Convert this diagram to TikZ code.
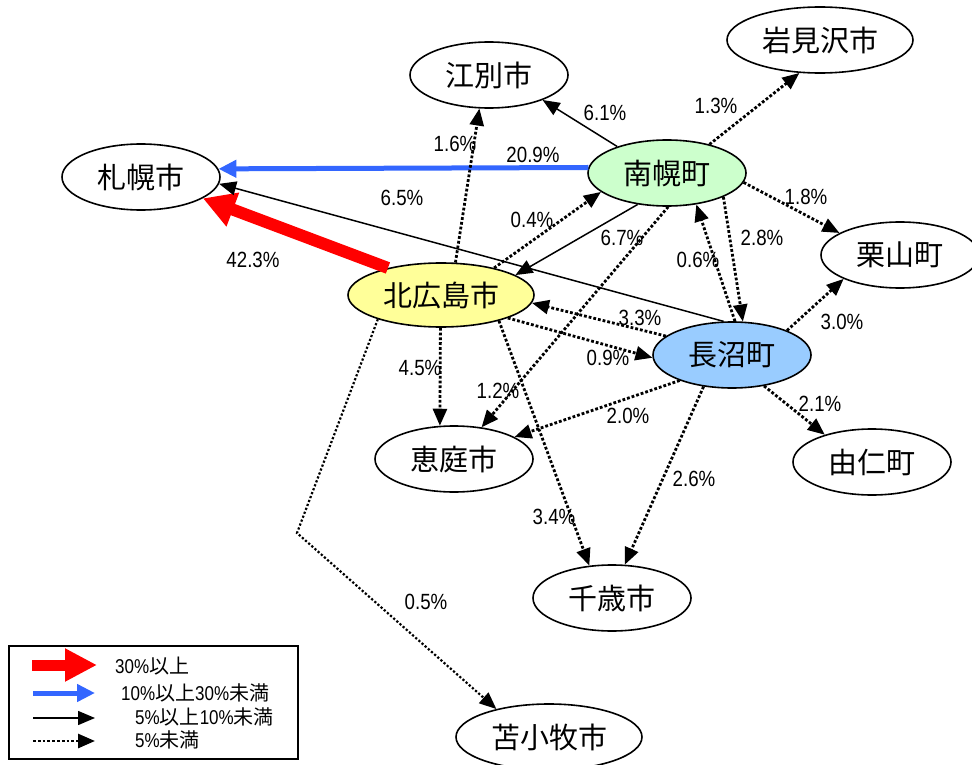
\documentclass[tikz,border=0pt]{standalone}
\usepackage{fontspec}
\setmainfont{Liberation Sans}[FakeStretch=0.85]
\newfontfamily\jp{Noto Sans CJK JP}
\usetikzlibrary{shapes.geometric, arrows.meta}

\definecolor{nanporogreen}{HTML}{CCFFCC}
\definecolor{kitahiroyellow}{HTML}{FFFF99}
\definecolor{naganumablue}{HTML}{99CCFF}
\definecolor{flowblue}{HTML}{3366FF}

\tikzset{
  town/.style = {ellipse, draw, line width=1.6pt, inner sep=0pt,
    minimum width=158pt, minimum height=66pt,
    font=\jp\fontsize{29}{32}\selectfont},
  wide/.style = {minimum width=186pt},
  pct/.style = {inner sep=0pt, font=\fontsize{22}{25}\selectfont},
  legtext/.style = {inner sep=0pt, anchor=west, font=\fontsize{20}{23}\selectfont},
  over30/.style = {red, line width=12pt, -{Triangle[length=32pt, width=34pt]}},
  over10/.style = {flowblue, line width=5pt, -{Triangle[length=18pt, width=17pt]}},
  over5/.style = {line width=1.5pt, -{Triangle[length=17pt, width=14pt]}},
  under5/.style = {dotted, line width=2.8pt, -{Triangle[length=17pt, width=14pt]}},
}

\begin{document}
\begin{tikzpicture}[x=1pt, y=-1pt]
\useasboundingbox (0,0) rectangle (972,765);
\clip (0,0) rectangle (972,765);

% towns
\node[town, wide] (iwamizawa) at (820,40) {岩見沢市};
\node[town] (ebetsu) at (489,75) {江別市};
\node[town] (sapporo) at (141,177) {札幌市};
\node[town, fill=nanporogreen] (nanporo) at (667,173) {南幌町};
\node[town] (kuriyama) at (900,255) {栗山町};
\node[town, wide, minimum height=64pt, fill=kitahiroyellow] (kitahiro) at (441,295) {北広島市};
\node[town, fill=naganumablue] (naganuma) at (732,355) {長沼町};
\node[town] (yuni) at (872,462) {由仁町};
\node[town] (eniwa) at (454,459) {恵庭市};
\node[town] (chitose) at (612,598) {千歳市};
\node[town, wide] (tomakomai) at (549,737) {苫小牧市};
\coordinate (bend) at (297,533);

% flows
\draw[over30] (kitahiro.153) -- (sapporo.-19);
\draw[over10] (nanporo.176) -- (sapporo.6);
\draw[over5] (naganuma.104) -- (sapporo.-5);
\draw[over5] (nanporo.152) -- (ebetsu.-25);
\draw[over5] (nanporo.227) -- (kitahiro.15);
\draw[under5] (kitahiro.66) -- (ebetsu.254);
\draw[under5] (kitahiro.27) -- (nanporo.196);
\draw[under5] (nanporo.34) -- (iwamizawa.238);
\draw[under5] (nanporo.-7) -- (kuriyama.160);
\draw[under5] (nanporo.-23) -- (naganuma.72);
\draw[under5] (naganuma.85) -- (nanporo.-47);
\draw[under5] (nanporo.-88) -- (eniwa.49);
\draw[under5] (naganuma.164) -- (kitahiro.-5);
\draw[under5] (kitahiro.-19) -- (naganuma.182);
\draw[under5] (kitahiro.-91) -- (eniwa.113);
\draw[under5] (kitahiro.-24) -- (chitose.125);
\draw[under5] (naganuma.206) -- (eniwa.20);
\draw[under5] (naganuma.228) -- (chitose.69);
\draw[under5] (naganuma.24) -- (kuriyama.203);
\draw[under5] (naganuma.-44) -- (yuni.150);
\draw[under5, line width=2.2pt] (kitahiro.201) -- (bend) -- (tomakomai.152);

% shares
\node[pct] (p423) at (253,260) {42.3\%};
\node[pct] (p209) at (533,155) {20.9\%};
\node[pct] (p65) at (402,198) {6.5\%};
\node[pct] (p61) at (605,113) {6.1\%};
\node[pct] (p67) at (622,238) {6.7\%};
\node[pct] (p16) at (455,144) {1.6\%};
\node[pct] (p04) at (532,220) {0.4\%};
\node[pct] (p13) at (716,106) {1.3\%};
\node[pct] (p18) at (806,197) {1.8\%};
\node[pct] (p28) at (762,238) {2.8\%};
\node[pct] (p06) at (698,260) {0.6\%};
\node[pct] (p12) at (498,391) {1.2\%};
\node[pct] (p33) at (640,318) {3.3\%};
\node[pct] (p09) at (608,358) {0.9\%};
\node[pct] (p45) at (420,368) {4.5\%};
\node[pct] (p34) at (554,517) {3.4\%};
\node[pct] (p20) at (628,416) {2.0\%};
\node[pct] (p26) at (694,479) {2.6\%};
\node[pct] (p30) at (842,322) {3.0\%};
\node[pct] (p21) at (820,404) {2.1\%};
\node[pct] (p05) at (426,602) {0.5\%};

% legend
\draw[line width=1.6pt] (9,646) rectangle (298,759);
\draw[red, line width=11pt, -{Triangle[length=32pt, width=31pt]}] (32,665) -- (97,665);
\draw[over10] (33,693) -- (95,693);
\draw[over5] (33,718) -- (95,718);
\draw[under5] (33,741) -- (95,741);
\node[legtext] (leg1) at (115,666) {30\%{\jp 以上}};
\node[legtext] (leg2) at (121,693) {10\%{\jp 以上}30\%{\jp 未満}};
\node[legtext] (leg3) at (135,717) {5\%{\jp 以上}10\%{\jp 未満}};
\node[legtext] (leg4) at (135,740) {5\%{\jp 未満}};
\end{tikzpicture}
\end{document}
